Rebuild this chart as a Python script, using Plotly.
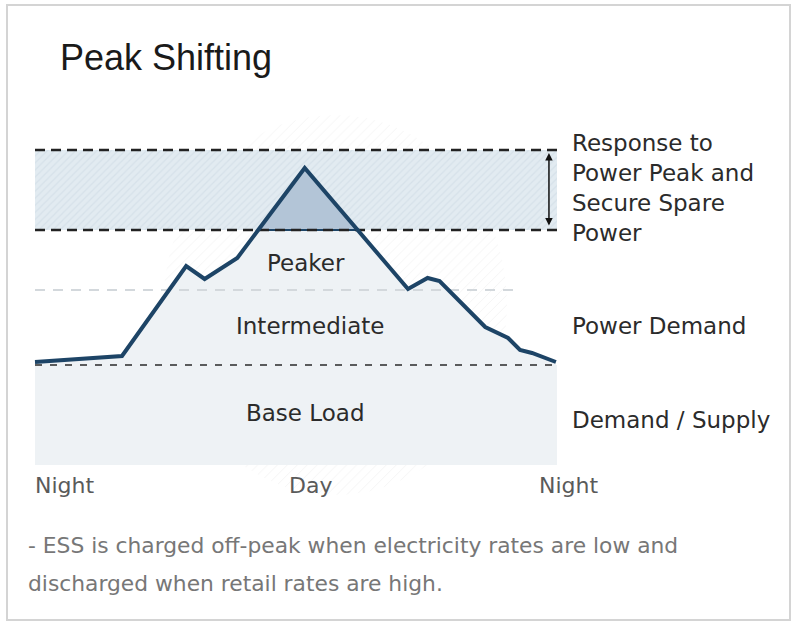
import numpy as np
import plotly.graph_objects as go

# ---------------- data ----------------
hours = [0, 4.0, 6.95, 7.8, 9.3, 12.4, 17.15, 18.05, 18.6, 20.7, 21.75, 22.3, 22.85, 23.95]
demand = [20.6, 21.8, 39.8, 37.2, 41.4, 59.4, 35.2, 37.4, 36.8, 27.6, 25.4, 23.0, 22.4, 20.6]
base_level = 20.0
intermediate_level = 35.0
peaker_level = 47.0
reserve_level = 63.0
tick_pos = [1.35, 12.65, 24.55]
tick_text = ["Night", "Day", "Night"]
region_labels = ["Peaker", "Intermediate", "Base Load"]
region_y = [40.4, 27.8, 10.4]
region_x = [12.45, 12.65, 12.45]
side_labels = ["Response to", "Power Peak and", "Secure Spare", "Power", "Power Demand", "Demand / Supply"]
side_y = [64.4, 58.4, 52.4, 46.4, 27.8, 9.0]
footnote_lines = ["- ESS is charged off-peak when electricity rates are low and",
                  "discharged when retail rates are high."]

# ---------------- geometry helpers ----------------
PX_X = 21.75   # px per hour
PX_Y = 5.0     # px per unit
X0 = 35.0
Y0 = 465.0
xr = [-X0 / PX_X, (798 - X0) / PX_X]
yr = [(Y0 - 628) / PX_Y, Y0 / PX_Y]

hx = np.array(hours)
dy = np.array(demand)

fig = go.Figure()

# faint hatched background disc
t = np.linspace(0, 2 * np.pi, 200)
cx, cy = 13.8, 32.0
fig.add_trace(go.Scatter(
    x=cx + 7.9 * np.cos(t), y=cy + 38.0 * np.sin(t), mode="lines",
    line=dict(width=0), fill="toself", fillcolor="rgba(255,255,255,0)",
    fillpattern=dict(shape="/", fgcolor="#e6e6e6", bgcolor="rgba(255,255,255,0)", size=7, solidity=0.12),
    hoverinfo="skip", showlegend=False))

# hatched reserve band
fig.add_trace(go.Scatter(
    x=[hours[0], hours[-1] + 0.05, hours[-1] + 0.05, hours[0], hours[0]],
    y=[peaker_level, peaker_level, reserve_level, reserve_level, peaker_level],
    mode="lines", line=dict(width=0), fill="toself", fillcolor="#dde7ee",
    fillpattern=dict(shape="/", fgcolor="#c9d7e2", bgcolor="#e2ebf1", size=5, solidity=0.25),
    hoverinfo="skip", showlegend=False))

# base load rectangle
fig.add_trace(go.Scatter(
    x=[hours[0], hours[-1] + 0.05, hours[-1] + 0.05, hours[0], hours[0]],
    y=[0, 0, base_level, base_level, 0],
    mode="lines", line=dict(width=0), fill="toself", fillcolor="#eef2f5",
    hoverinfo="skip", showlegend=False))

# area under demand curve
fig.add_trace(go.Scatter(
    x=hours, y=demand, mode="lines", line=dict(width=0),
    fill="tozeroy", fillcolor="#eef2f5", hoverinfo="skip", showlegend=False))

# peak triangle above peaker level
ix = int(np.argmax(dy))
def cross(i, j, lvl):
    return hx[i] + (lvl - dy[i]) * (hx[j] - hx[i]) / (dy[j] - dy[i])
xl = cross(ix - 1, ix, peaker_level)
xrr = cross(ix, ix + 1, peaker_level)
fig.add_trace(go.Scatter(
    x=[xl, hx[ix], xrr, xl], y=[peaker_level, dy[ix], peaker_level, peaker_level],
    mode="lines", line=dict(width=0), fill="toself", fillcolor="#b3c5d7",
    hoverinfo="skip", showlegend=False))
fig.add_trace(go.Scatter(
    x=[xl, xrr], y=[peaker_level, peaker_level], mode="lines",
    line=dict(color="#1d4466", width=2), hoverinfo="skip", showlegend=False))

# dashed guide lines
fig.add_trace(go.Scatter(
    x=[hours[0], 22.3], y=[intermediate_level, intermediate_level], mode="lines",
    line=dict(color="#d3d8dc", width=2, dash="10px,8px"), hoverinfo="skip", showlegend=False))
for lvl in (reserve_level, peaker_level):
    fig.add_trace(go.Scatter(
        x=[hours[0], 24.2], y=[lvl, lvl], mode="lines",
        line=dict(color="#222222", width=2.5, dash="10px,6px"), hoverinfo="skip", showlegend=False))

# demand curve
fig.add_trace(go.Scatter(
    x=hours, y=demand, mode="lines",
    line=dict(color="#1d4466", width=4), hoverinfo="skip", showlegend=False))

# base dashed line
fig.add_trace(go.Scatter(
    x=[hours[0], hours[-1]], y=[base_level, base_level], mode="lines",
    line=dict(color="#2a2a2a", width=1.5, dash="7px,8px"), hoverinfo="skip", showlegend=False))

# double arrow
fig.add_annotation(x=23.63, y=reserve_level - 0.6, ax=23.63, ay=peaker_level + 0.6,
                   xref="x", yref="y", axref="x", ayref="y", text="",
                   showarrow=True, arrowhead=2, startarrowhead=2, arrowside="end+start",
                   arrowwidth=1.5, arrowsize=1, startarrowsize=1, arrowcolor="#111111")

FONT = "Liberation Sans, Arial, sans-serif"
WFONT = "DejaVu Sans, Verdana, sans-serif"

# region labels
for txt, x, y in zip(region_labels, region_x, region_y):
    fig.add_annotation(x=x, y=y, xref="x", yref="y", text=txt, showarrow=False,
                       font=dict(family=WFONT, size=23, color="#2b2b2b"))

# side labels
for txt, y in zip(side_labels, side_y):
    fig.add_annotation(x=24.62, y=y, xref="x", yref="y", text=txt, showarrow=False,
                       xanchor="left", yanchor="middle", align="left",
                       font=dict(family=WFONT, size=23, color="#2b2b2b"))

# tick labels
for txt, x in zip(tick_text, tick_pos):
    fig.add_annotation(x=x, y=-4.0, xref="x", yref="y", text=txt, showarrow=False,
                       font=dict(family=WFONT, size=22, color="#5a5a5a"))

# title
fig.add_annotation(x=58 / 798, y=1 - 58 / 628, xref="paper", yref="paper",
                   text="Peak Shifting", showarrow=False, xanchor="left", yanchor="middle",
                   font=dict(family=FONT, size=36, color="#1a1a1a"))

# footnote
for i, line in enumerate(footnote_lines):
    fig.add_annotation(x=26 / 798, y=1 - (545 + 38 * i) / 628, xref="paper", yref="paper",
                       text=line, showarrow=False, xanchor="left", yanchor="middle", align="left",
                       font=dict(family=WFONT, size=21.8, color="#777777"))

# frame
fig.add_shape(type="rect", xref="paper", yref="paper",
              x0=7 / 798, x1=790 / 798, y0=1 - 620 / 628, y1=1 - 5 / 628,
              line=dict(color="#d4d4d4", width=2), layer="above")

fig.update_layout(
    width=798, height=628, margin=dict(l=0, r=0, t=0, b=0),
    paper_bgcolor="white", plot_bgcolor="white", showlegend=False,
    xaxis=dict(range=xr, visible=False, fixedrange=True),
    yaxis=dict(range=yr, visible=False, fixedrange=True),
)
fig.write_html("out.html", config={"displayModeBar": False},
               post_script="document.body.style.margin='0px';")
